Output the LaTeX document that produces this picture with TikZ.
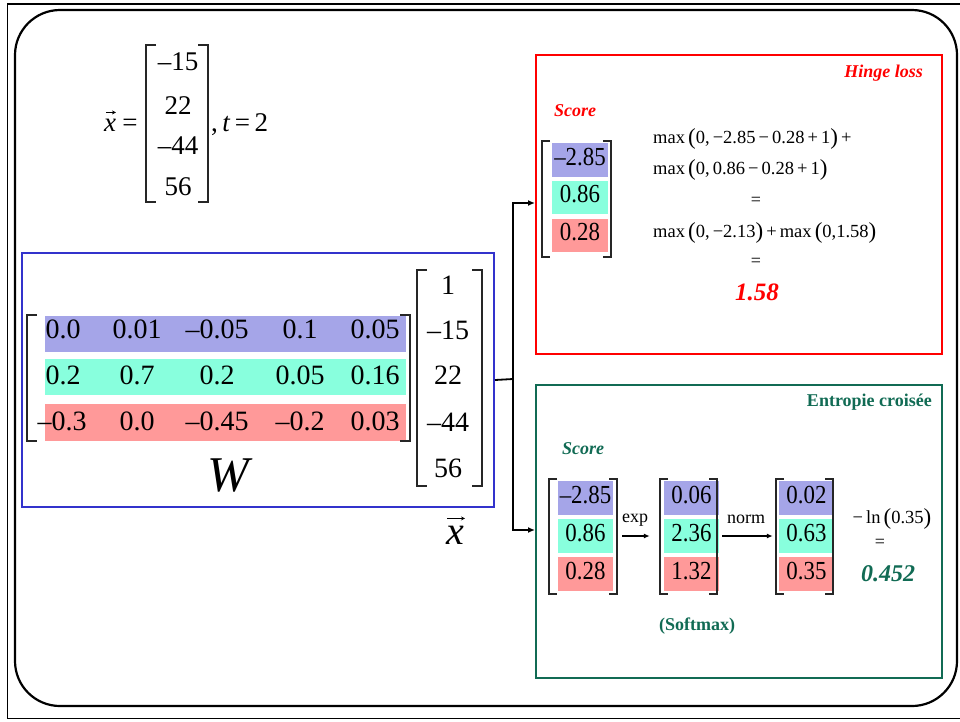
\documentclass[tikz,border=0pt]{standalone}
\usepackage{fontspec}
\usepackage{graphicx}
\setmainfont{Liberation Serif}
\newfontfamily\cond[FakeStretch=0.88]{Liberation Serif}
\usetikzlibrary{arrows.meta}
\definecolor{cB}{RGB}{165,165,232}
\definecolor{cG}{RGB}{136,255,221}
\definecolor{cR}{RGB}{255,153,153}
\definecolor{hred}{RGB}{255,0,0}
\definecolor{egreen}{RGB}{17,107,84}
\definecolor{wblue}{RGB}{51,51,204}
\newcommand\fs[1]{\fontsize{#1}{#1}\selectfont}
\newcommand\bp[1]{{\fs{23}\raisebox{-1.5pt}{#1}}}
\newcommand\mbr[5]{%
  \draw[brk] (#1+#5,#3) -- (#1,#3) -- (#1,#4) -- (#1+#5,#4);
  \draw[brk] (#2-#5,#3) -- (#2,#3) -- (#2,#4) -- (#2-#5,#4);}
\begin{document}
\begin{tikzpicture}[x=1pt,y=-1pt,
  brk/.style={line width=1.3pt, draw=black!85},
  box/.style={draw, line width=2pt, anchor=north west, inner sep=0},
  num/.style={inner sep=0, font=\fs{28}},
  cell/.style={inner sep=0, minimum width=55, minimum height=34, font=\cond\fs{26}, text height=15, text depth=5},
  band/.style={inner sep=0, minimum width=361, minimum height=36},
  eq/.style={inner sep=0, font=\fs{18.5}, anchor=base west},
  conn/.style={line width=1.8pt, -{Latex[length=7pt,width=6pt]}},
  small/.style={line width=1.6pt, -{Latex[length=6pt,width=5pt]}},
  vecarr/.style={line width=1pt, -{Stealth[length=4pt,width=4pt]}}]
\useasboundingbox (0,0) rectangle (960,721);
% frames
\draw[line width=1.3pt] (963,4) -- (7.5,4) -- (7.5,718.5) -- (963,718.5);
\draw[line width=2.2pt, rounded corners=45] (15,10) rectangle (957,706);

% top-left vector
\node[inner sep=0, font=\fs{27}\itshape, anchor=base] (xs) at (110,131) {x};
\draw[vecarr] ([xshift=-4pt,yshift=6pt]xs.north) -- ([xshift=6pt,yshift=6pt]xs.north);
\node[inner sep=0, font=\fs{27}, anchor=base] (xeq) at (130,131) {=};
\mbr{146}{208}{45}{202}{10}
\foreach \v/\yy [count=\i] in {–15/62, 22/106, –44/146, 56/187}
  \node[inner sep=0, font=\fs{27}] (xt\i) at (178,\yy) {\v};
\node[inner sep=0, font=\fs{27}, anchor=base west] (teq) at (211,131) {,\,\textit{t}\,=\,2};

% W box
\node[box, draw=wblue, minimum width=472, minimum height=254] (wbox) at (21,252) {};
\node[band, fill=cB] (wr1) at (225.5,334) {};
\node[band, fill=cG] (wr2) at (225.5,377) {};
\node[band, fill=cR, minimum height=37] (wr3) at (225.5,422.5) {};
\foreach \v/\xx [count=\i] in {0.0/63, 0.01/137, –0.05/217, 0.1/300, 0.05/375}
  \node[num] (wa\i) at (\xx,329) {\v};
\foreach \v/\xx [count=\i] in {0.2/63, 0.7/137, 0.2/217, 0.05/300, 0.16/375}
  \node[num] (wb\i) at (\xx,375) {\v};
\foreach \v/\xx [count=\i] in {–0.3/62, 0.0/137, –0.45/217, –0.2/300, 0.03/375}
  \node[num] (wc\i) at (\xx,421) {\v};
\mbr{27}{410}{315}{441}{10}
\node[inner sep=0, font=\fs{50}\itshape] (wlab) at (228,475) {W};
\mbr{417}{482}{270}{486}{10}
\foreach \v/\yy [count=\i] in {1/285, –15/330, 22/375, –44/422, 56/468}
  \node[num] (xv\i) at (448,\yy) {\v};
\node[inner sep=0, font=\fs{40}\itshape, anchor=base] (xlab) at (455,544) {x};
\draw[vecarr, line width=1.3pt] ([xshift=-8pt,yshift=7pt]xlab.north) -- ([xshift=10pt,yshift=7pt]xlab.north);

% connectors
\coordinate (split) at (513,379);
\coordinate (hin) at (535,203);
\coordinate (cin) at (535,530);
\draw[line width=1.8pt] (wbox.east) -- (split);
\draw[conn] (split) |- (hin);
\draw[conn] (split) |- (cin);

% Hinge loss box
\node[box, draw=hred, minimum width=406, minimum height=299] (hinge) at (535,54) {};
\node[inner sep=0, font=\fs{18}\bfseries\itshape, text=hred, anchor=base east] (htitle) at (923,77) {Hinge loss};
\node[inner sep=0, font=\fs{18}\bfseries\itshape, text=hred, anchor=base] (hscore) at (575,116) {Score};
\node[cell, fill=cB, minimum width=56] (hs1) at (580,160) {–2.85};
\node[cell, fill=cG, minimum width=56, minimum height=33] (hs2) at (580,197.5) {0.86};
\node[cell, fill=cR, minimum width=56, minimum height=33] (hs3) at (580,235.5) {0.28};
\mbr{542}{611}{141}{257}{8}
\node[eq] (h1) at (653,143) {max\,\bp{(}0,\,−2.85\,−\,0.28\,+\,1\bp{)}\,+};
\node[eq] (h2) at (653,174) {max\,\bp{(}0,\,0.86\,−\,0.28\,+\,1\bp{)}};
\node[inner sep=0, font=\fs{18}] (h3) at (756,201) {=};
\node[eq] (h4) at (653,237) {max\,\bp{(}0,\,−2.13\bp{)}\,+\,max\,\bp{(}0,1.58\bp{)}};
\node[inner sep=0, font=\fs{18}] (h5) at (756,262) {=};
\node[inner sep=0, font=\fs{25}\bfseries\itshape, text=hred, anchor=base] (hres) at (757,300) {1.58};

% Cross-entropy box
\node[box, draw=egreen, minimum width=406, minimum height=293] (xent) at (535,384) {};
\node[inner sep=0, font=\fs{18}\bfseries, text=egreen, anchor=base east] (etitle) at (932,406) {Entropie croisée};
\node[inner sep=0, font=\fs{18}\bfseries\itshape, text=egreen, anchor=base] (escore) at (583,454) {Score};
\node[cell, fill=cB] (g11) at (585.5,498) {–2.85};
\node[cell, fill=cG] (g12) at (585.5,536) {0.86};
\node[cell, fill=cR] (g13) at (585.5,574) {0.28};
\node[cell, fill=cB] (g21) at (691.5,498) {0.06};
\node[cell, fill=cG] (g22) at (691.5,536) {2.36};
\node[cell, fill=cR] (g23) at (691.5,574) {1.32};
\node[cell, fill=cB] (g31) at (806.5,498) {0.02};
\node[cell, fill=cG] (g32) at (806.5,536) {0.63};
\node[cell, fill=cR] (g33) at (806.5,574) {0.35};
\mbr{549}{617}{479}{594}{8}
\mbr{660}{717}{479}{594}{8}
\mbr{776}{833}{479}{594}{8}
\draw[small] ([xshift=9pt]g12.east) -- ([xshift=-14pt]g22.west);
\draw[small] ([xshift=3pt]g22.east) -- ([xshift=-6pt]g32.west);
\node[inner sep=0, font=\fs{18}, anchor=base] (lexp) at (635,522) {exp};
\node[inner sep=0, font=\fs{18}, anchor=base] (lnorm) at (746,523) {norm};
\node[inner sep=0, font=\fs{18.5}, anchor=base] (ln) at (892,523) {−\,ln\,\bp{(}0.35\bp{)}};
\node[inner sep=0, font=\fs{18}] (leq) at (880,543) {=};
\node[inner sep=0, font=\fs{24}\bfseries\itshape, text=egreen, anchor=base] (eres) at (888,581) {0.452};
\node[inner sep=0, font=\fs{18}\bfseries, text=egreen] (soft) at (697,626) {(Softmax)};
\end{tikzpicture}
\end{document}
